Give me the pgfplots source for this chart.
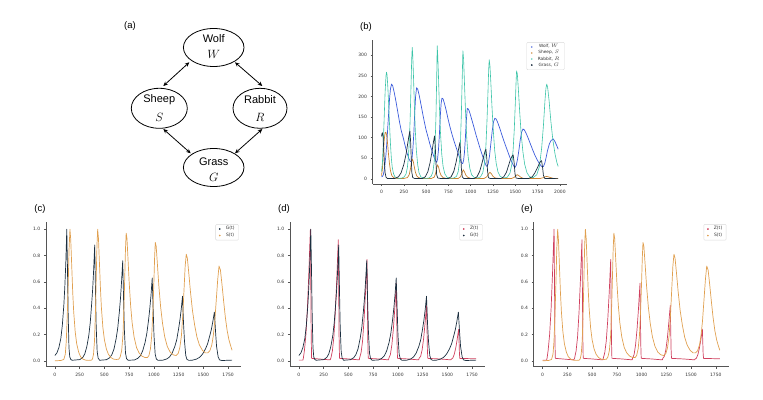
\documentclass[border=0pt]{standalone}
\usepackage{fontspec}
\setmainfont{DejaVu Sans}
\newfontfamily\arial{Liberation Sans}
\usepackage{pgfplots}
\pgfplotsset{compat=1.18}
\usepackage{pgfplotstable}
\usetikzlibrary{arrows.meta,shapes.geometric}

\definecolor{wolfc}{HTML}{3B5BDB}
\definecolor{sheepc}{HTML}{C9812F}
\definecolor{rabbitc}{HTML}{3CC4A8}
\definecolor{grassc}{HTML}{1C2F40}
\definecolor{zc}{HTML}{D0405E}
\definecolor{sc}{HTML}{E0A050}
\definecolor{spine}{HTML}{555555}
\definecolor{ticktxt}{HTML}{333333}

% panel (b): raw populations
\pgfplotstableread{
t W
0 5
10 6
20 10
30 20
40 38
50 60
60 90
70 125
80 160
90 195
100 218
112 230
125 226
140 212
160 190
180 165
200 140
220 118
243 100
265 80
285 63
305 50
320 43
332 41
342 50
352 75
362 110
372 160
382 200
393 221
405 218
420 205
440 183
460 160
480 138
500 118
523 100
545 82
570 65
590 52
605 44
618 40
628 48
638 70
648 105
658 150
668 183
677 196
690 194
705 183
725 166
745 146
765 128
790 108
815 90
840 74
865 58
885 46
900 38
910 37
920 45
930 65
940 100
950 140
961 171
975 169
990 160
1010 145
1035 126
1060 106
1085 88
1110 70
1135 54
1155 42
1170 33
1182 30
1195 36
1210 55
1225 85
1240 115
1255 138
1270 147
1285 145
1300 138
1325 123
1350 106
1375 90
1400 75
1425 60
1450 46
1470 36
1485 30
1497 28
1510 33
1525 48
1540 70
1555 95
1570 113
1585 121
1600 119
1620 111
1645 98
1670 84
1695 70
1720 57
1745 46
1770 37
1790 31
1805 29
1815 30
1830 38
1845 52
1860 68
1880 84
1900 93
1925 97
1945 90
1965 80
1980 72
}\wolf

\pgfplotstableread{
t S
0 8
10 25
20 60
30 95
40 112
49 113
58 105
68 85
78 60
90 35
100 20
115 8
135 3
170 1
250 1
290 3
310 10
325 25
335 40
346 48
356 42
368 28
380 16
395 7
415 3
450 1
560 1
590 4
605 12
617 26
628 34
640 28
652 17
668 8
690 3
730 1
860 1
885 5
900 13
916 22
930 17
945 9
965 4
1000 1
1150 1
1180 5
1200 12
1215 16
1232 12
1250 6
1275 2
1320 1
1460 1
1490 4
1508 8
1521 10
1538 8
1560 4
1590 1
1780 1
1815 3
1835 5
1850 6
1868 5
1895 3
1930 1
1980 0.5
}\sheep

\pgfplotstableread{
t R
0 18
10 40
20 90
30 150
40 210
50 250
56 259
62 252
70 225
80 180
90 130
100 85
110 50
120 28
135 12
150 5
175 2
200 1
230 2
255 5
275 12
290 28
300 50
310 85
320 140
330 220
338 290
344 319
350 300
358 250
368 180
378 120
390 70
405 35
420 15
440 5
470 2
500 1
530 2
555 6
575 16
590 40
600 80
610 150
618 240
624 323
630 300
638 250
648 180
660 115
675 60
690 30
710 12
735 4
770 1.5
810 2
840 6
860 18
875 45
885 90
895 160
905 250
912 311
920 290
930 230
942 160
955 100
970 55
990 25
1010 10
1040 3
1080 2
1110 5
1135 15
1155 40
1170 80
1182 140
1193 210
1201 265
1207 289
1215 275
1225 235
1238 175
1252 120
1268 70
1285 38
1305 17
1330 6
1370 2
1410 4
1440 14
1460 35
1475 70
1488 120
1500 185
1508 235
1514 262
1522 255
1533 220
1548 165
1565 110
1585 65
1605 35
1630 15
1660 5
1700 3
1740 10
1770 30
1795 75
1815 130
1832 190
1843 220
1852 230
1862 222
1878 190
1898 140
1920 95
1945 60
1965 40
1980 30
}\rabbit

\pgfplotstableread{
t G
0 103
5 110
11 112
18 100
25 70
32 40
40 15
50 4
65 1
150 1
190 5
220 15
250 35
275 60
295 88
310 108
318 116
326 90
333 50
340 15
350 3
370 1
460 1
490 5
520 18
545 40
565 65
580 87
594 104
602 80
610 40
618 10
630 2
660 1
750 1
780 5
810 18
835 40
855 62
870 80
878 88
887 60
895 25
905 5
920 1
1040 1
1070 5
1100 18
1125 37
1145 55
1160 67
1170 72
1180 50
1188 20
1198 3
1215 1
1340 1
1370 5
1400 16
1425 33
1445 47
1465 56
1476 58
1487 38
1496 12
1508 2
1530 1
1650 1
1690 5
1720 15
1750 28
1770 38
1785 43
1794 44
1805 28
1815 8
1830 1
1980 0.5
}\grass

% panels (c)-(e): normalised series
\pgfplotstableread{
t y
0 0.04
20 0.06
40 0.10
60 0.17
75 0.27
90 0.42
100 0.56
110 0.74
120 1.0
127 0.7
134 0.35
142 0.1
150 0.03
160 0.01
175 0.004
252 0.009
282 0.026
302 0.053
322 0.106
342 0.19
357 0.29
372 0.44
382 0.55
392 0.70
402 0.88
410 0.53
417 0.26
427 0.07
437 0.02
452 0.004
520 0.008
553 0.023
575 0.046
597 0.09
619 0.17
635 0.25
652 0.38
663 0.48
674 0.61
685 0.76
694 0.46
702 0.23
713 0.06
724 0.015
740 0.004
803 0.006
839 0.019
863 0.038
887 0.076
911 0.14
929 0.21
947 0.315
959 0.40
971 0.50
983 0.63
993 0.38
1001 0.19
1013 0.05
1025 0.013
1043 0.003
1094 0.005
1133 0.015
1159 0.03
1185 0.059
1211 0.108
1231 0.16
1250 0.245
1263 0.31
1276 0.39
1289 0.49
1299 0.29
1309 0.15
1322 0.04
1334 0.01
1354 0.003
1386 0.004
1431 0.013
1461 0.026
1491 0.05
1521 0.09
1543 0.13
1566 0.195
1581 0.24
1596 0.30
1611 0.37
1623 0.22
1633 0.11
1649 0.03
1663 0.007
1686 0.002
1790 0.005
}\Gn

\pgfplotstableread{
t y
0 0.0
60 0.002
90 0.01
105 0.05
115 0.15
125 0.35
135 0.6
143 0.85
152 1.0
160 0.92
170 0.72
180 0.52
190 0.37
205 0.22
220 0.13
240 0.065
260 0.03
285 0.012
310 0.005
340 0.003
370 0.005
380 0.015
390 0.05
400 0.15
410 0.38
418 0.65
425 0.88
432 1.0
440 0.93
450 0.74
460 0.55
470 0.40
485 0.25
500 0.16
520 0.09
540 0.05
565 0.025
590 0.013
620 0.01
645 0.012
660 0.03
675 0.08
688 0.2
698 0.42
706 0.65
713 0.85
720 0.97
728 0.93
738 0.78
750 0.6
765 0.42
780 0.29
800 0.18
825 0.1
850 0.06
880 0.035
910 0.025
935 0.025
950 0.04
965 0.09
978 0.19
990 0.38
1000 0.6
1007 0.78
1014 0.90
1023 0.87
1035 0.74
1050 0.57
1068 0.41
1088 0.28
1110 0.18
1135 0.11
1165 0.065
1195 0.045
1225 0.04
1245 0.055
1262 0.1
1278 0.19
1292 0.35
1305 0.55
1316 0.72
1327 0.81
1338 0.78
1352 0.67
1370 0.52
1390 0.38
1412 0.27
1435 0.18
1460 0.12
1490 0.08
1520 0.06
1545 0.06
1565 0.075
1585 0.12
1600 0.19
1615 0.3
1630 0.46
1645 0.62
1658 0.72
1672 0.69
1688 0.58
1705 0.45
1722 0.33
1740 0.23
1758 0.16
1775 0.115
1790 0.08
}\Sn

\pgfplotstableread{
t y
0 0.005
40 0.005
45 0.02
56 0.08
71 0.2
86 0.4
101 0.68
111 0.9
116 1.0
120 0.6
124 0.2
128 0.02
135 0.018
200 0.014
260 0.01
315 0.007
323 0.02
338 0.074
353 0.18
368 0.37
383 0.63
393 0.83
398 0.92
402 0.55
406 0.18
410 0.02
420 0.018
500 0.014
560 0.01
610 0.007
613 0.02
628 0.062
643 0.15
658 0.31
673 0.52
683 0.69
688 0.77
692 0.46
696 0.15
700 0.02
710 0.018
800 0.014
860 0.01
905 0.007
909 0.02
924 0.047
939 0.12
954 0.24
969 0.40
979 0.53
984 0.59
988 0.35
992 0.12
996 0.02
1005 0.018
1100 0.014
1160 0.01
1210 0.007
1215 0.02
1230 0.034
1245 0.084
1260 0.17
1275 0.29
1285 0.38
1290 0.42
1294 0.25
1298 0.085
1302 0.02
1310 0.018
1420 0.014
1490 0.01
1535 0.007
1539 0.012
1554 0.02
1569 0.048
1584 0.096
1599 0.163
1609 0.216
1614 0.24
1618 0.144
1622 0.05
1626 0.018
1635 0.018
1790 0.015
}\Zn

\pgfplotsset{
  panel/.style={
    scale only axis, anchor=south west,
    axis lines=left, axis line style={-, draw=spine, line width=0.6pt},
    tick align=outside, major tick length=2.2pt,
    tick style={draw=spine, line width=0.5pt},
    /pgf/number format/assume math mode=true,
    /pgf/number format/1000 sep={},
    ticklabel style={font=\fontsize{4.5}{5}\selectfont, text=ticktxt},
    xticklabel style={yshift=-0.5pt},
    legend style={draw=black!15, rounded corners=1pt, fill=white,
      font=\fontsize{4.5}{5}\selectfont, text=ticktxt,
      inner xsep=3.5pt, inner ysep=1.8pt, row sep=0.8pt,
      nodes={inner sep=0.4pt},
      at={(0.988,0.985)}, anchor=north east,
      /tikz/every odd column/.append style={column sep=5pt}},
  },
  norm/.style={panel, width=195pt, height=144.7pt,
    xmin=-90, xmax=1880, ymin=-0.045, ymax=1.055,
    xtick={0,250,...,1750}, ytick={0,0.2,0.4,0.6,0.8,1.0},
    yticklabel style={/pgf/number format/.cd, fixed, fixed zerofill, precision=1}},
  ser/.style={no marks, line width=0.7pt, line join=round, forget plot},
  dot/.style={only marks, mark=*, mark size=0.6pt, color=#1},
}

\begin{document}
\begin{tikzpicture}
\useasboundingbox (0pt,0pt) rectangle (763pt,399pt);

% (a) diagram
\node[font=\fontsize{9.5}{11}\arial] at (130pt,373pt) {(a)};
\begin{scope}[line width=0.8pt]
\draw (213.7pt,351.5pt) ellipse [x radius=30.3pt, y radius=19pt];
\draw (159.3pt,290.7pt) ellipse [x radius=28pt, y radius=20pt];
\draw (260pt,290.7pt) ellipse [x radius=27pt, y radius=20pt];
\draw (213.7pt,231.5pt) ellipse [x radius=30.3pt, y radius=19pt];
\end{scope}
\begin{scope}[font=\fontsize{11}{12}\arial]
\node at (213.7pt,360pt) {Wolf};
\node at (213.7pt,344.5pt) {\fontsize{13}{14}\selectfont$W$};
\node at (159.3pt,299pt) {Sheep};
\node at (159.3pt,282pt) {\fontsize{13}{14}\selectfont$S$};
\node at (260pt,299pt) {Rabbit};
\node at (260pt,282pt) {\fontsize{13}{14}\selectfont$R$};
\node at (213.7pt,237pt) {Grass};
\node at (213.7pt,221.5pt) {\fontsize{13}{14}\selectfont$G$};
\end{scope}
\begin{scope}[line width=0.8pt, {Stealth[length=4.5pt,width=4pt]}-{Stealth[length=4.5pt,width=4pt]}]
\draw (189.3pt,336.7pt) -- (163.3pt,313pt);
\draw (235pt,336.7pt) -- (262.3pt,313pt);
\draw (163.3pt,270pt) -- (190.7pt,245.7pt);
\draw (262.3pt,270pt) -- (235pt,245.7pt);
\end{scope}

% (b)
\node[font=\fontsize{9.5}{11}\arial] at (366pt,372pt) {(b)};
\begin{axis}[panel, at={(372.7pt,215pt)}, width=194.3pt, height=144pt,
  xmin=-99, xmax=2079, ymin=-12.5, ymax=337,
  xtick={0,250,...,2000}, ytick={0,50,...,300},
  legend style={font=\fontsize{4.3}{4.8}\selectfont, row sep=0.3pt, inner xsep=4.5pt}]
\addlegendimage{dot=wolfc!70}
\addlegendentry{Wolf, $W$}
\addlegendimage{dot=sheepc!70}
\addlegendentry{Sheep, $S$}
\addlegendimage{dot=rabbitc!70}
\addlegendentry{Rabbit, $R$}
\addlegendimage{dot=grassc}
\addlegendentry{Grass, $G$}
\addplot[ser, color=wolfc] table[x=t,y=W] {\wolf};
\addplot[ser, color=sheepc] table[x=t,y=S] {\sheep};
\addplot[ser, color=rabbitc, line width=0.6pt] table[x=t,y=R] {\rabbit};
\addplot[ser, color=grassc] table[x=t,y=G] {\grass};
\end{axis}

% (c)
\node[font=\fontsize{9.5}{11}\arial] at (40pt,189.5pt) {(c)};
\begin{axis}[norm, at={(46pt,32.3pt)}]
\addlegendimage{dot=grassc}
\addlegendentry{G(t)}
\addlegendimage{dot=sc}
\addlegendentry{S(t)}
\addplot[ser, color=grassc] table[x=t,y=y] {\Gn};
\addplot[ser, color=sc] table[x=t,y=y] {\Sn};
\end{axis}

% (d)
\node[font=\fontsize{9.5}{11}\arial] at (284pt,189.5pt) {(d)};
\begin{axis}[norm, at={(290pt,32.3pt)}]
\addlegendimage{dot=zc}
\addlegendentry{Z(t)}
\addlegendimage{dot=grassc}
\addlegendentry{G(t)}
\addplot[ser, color=zc] table[x=t,y=y] {\Zn};
\addplot[ser, color=grassc] table[x=t,y=y] {\Gn};
\end{axis}

% (e)
\node[font=\fontsize{9.5}{11}\arial] at (527pt,189.5pt) {(e)};
\begin{axis}[norm, at={(533.7pt,32.3pt)}]
\addlegendimage{dot=zc}
\addlegendentry{Z(t)}
\addlegendimage{dot=sc}
\addlegendentry{S(t)}
\addplot[ser, color=zc] table[x=t,y=y] {\Zn};
\addplot[ser, color=sc] table[x=t,y=y] {\Sn};
\end{axis}
\end{tikzpicture}
\end{document}
